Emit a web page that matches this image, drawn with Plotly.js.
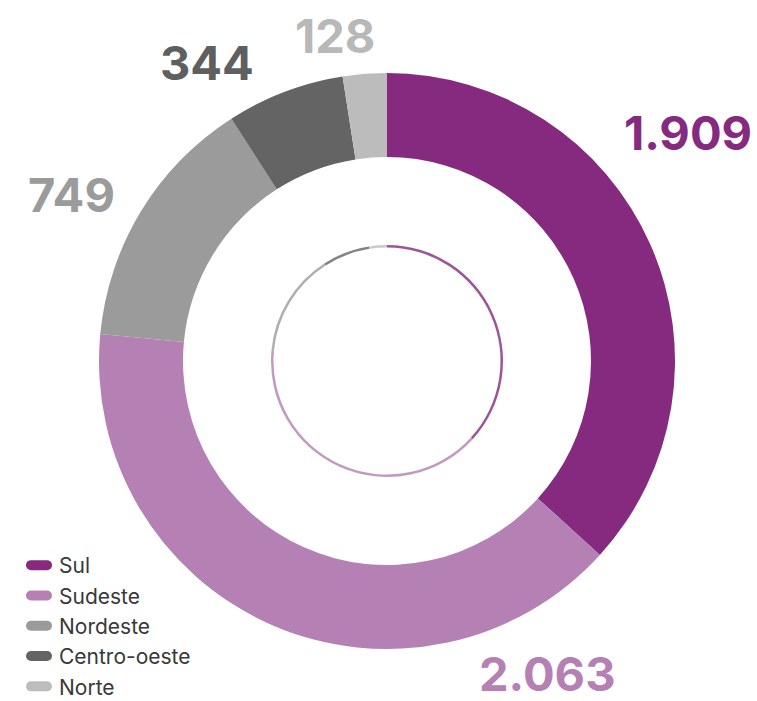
<!DOCTYPE html>
<html>
<head>
<meta charset="utf-8">
<script src="https://cdn.plot.ly/plotly-3.0.1.min.js"></script>
<style>html,body{margin:0;padding:0;background:#fff;}#chart{width:757px;height:701px;}</style>
</head>
<body>
<div id="chart"></div>
<script>
// Data
const regions = ["Sul", "Sudeste", "Nordeste", "Centro-oeste", "Norte"];
const counts = [1909, 2063, 749, 344, 128];

// Styles
const colors = ["#862a80", "#b580b4", "#9b9b9b", "#646464", "#bcbcbc"];
const labelColors = ["#862a80", "#b580b4", "#9b9b9b", "#5f5f5f", "#b8b8b8"];
// label anchor positions (pixels from top-left)
const labelPos = [[688, 132], [547, 673], [71, 195], [207, 62], [335, 35]];

const W = 757, H = 701;
const cx = 387, cy = 361;
function dom(r) {
  return {
    x: [(cx - r) / W, (cx + r) / W],
    y: [(H - cy - r) / H, (H - cy + r) / H]
  };
}

function fmt(v) {
  return String(v).replace(/\B(?=(\d{3})+(?!\d))/g, ".");
}

const outer = {
  type: "pie",
  labels: regions,
  values: counts,
  sort: false,
  direction: "clockwise",
  rotation: 0,
  hole: 204 / 288,
  domain: dom(288),
  marker: {colors: colors, line: {width: 0}},
  textinfo: "none",
  hoverinfo: "label+value",
  showlegend: true
};

const inner = {
  type: "pie",
  labels: regions,
  values: counts,
  sort: false,
  direction: "clockwise",
  rotation: 0,
  hole: 113.5 / 116,
  domain: dom(116),
  marker: {colors: colors, line: {width: 0}},
  opacity: 0.8,
  textinfo: "none",
  hoverinfo: "skip",
  showlegend: false
};

const annotations = counts.map((v, i) => ({
  xref: "paper", yref: "paper",
  x: labelPos[i][0] / W,
  y: 1 - labelPos[i][1] / H,
  xanchor: "center", yanchor: "middle",
  text: fmt(v),
  showarrow: false,
  font: {family: "Inter, sans-serif", size: 47, weight: 700, color: labelColors[i]}
}));

const layout = {
  width: W, height: H,
  margin: {l: 0, r: 0, t: 0, b: 0, autoexpand: false},
  paper_bgcolor: "#fff",
  showlegend: true,
  legend: {
    x: 19 / W, y: -6 / H, xanchor: "left", yanchor: "bottom",
    font: {family: "Inter, sans-serif", size: 21, color: "#383838"},
    bgcolor: "rgba(0,0,0,0)",
    traceorder: "normal"
  },
  annotations: annotations
};

Plotly.newPlot("chart", [outer, inner], layout, {displayModeBar: false, staticPlot: true}).then(function (gd) {
  // rounded "pill" legend symbols
  gd.querySelectorAll(".legend .legendpoints path").forEach(function (p) {
    p.setAttribute("d", "M-8,-5H8A5,5 0 0 1 8,5H-8A5,5 0 0 1 -8,-5Z");
    p.style.strokeWidth = "0";
  });
});
</script>
</body>
</html>
